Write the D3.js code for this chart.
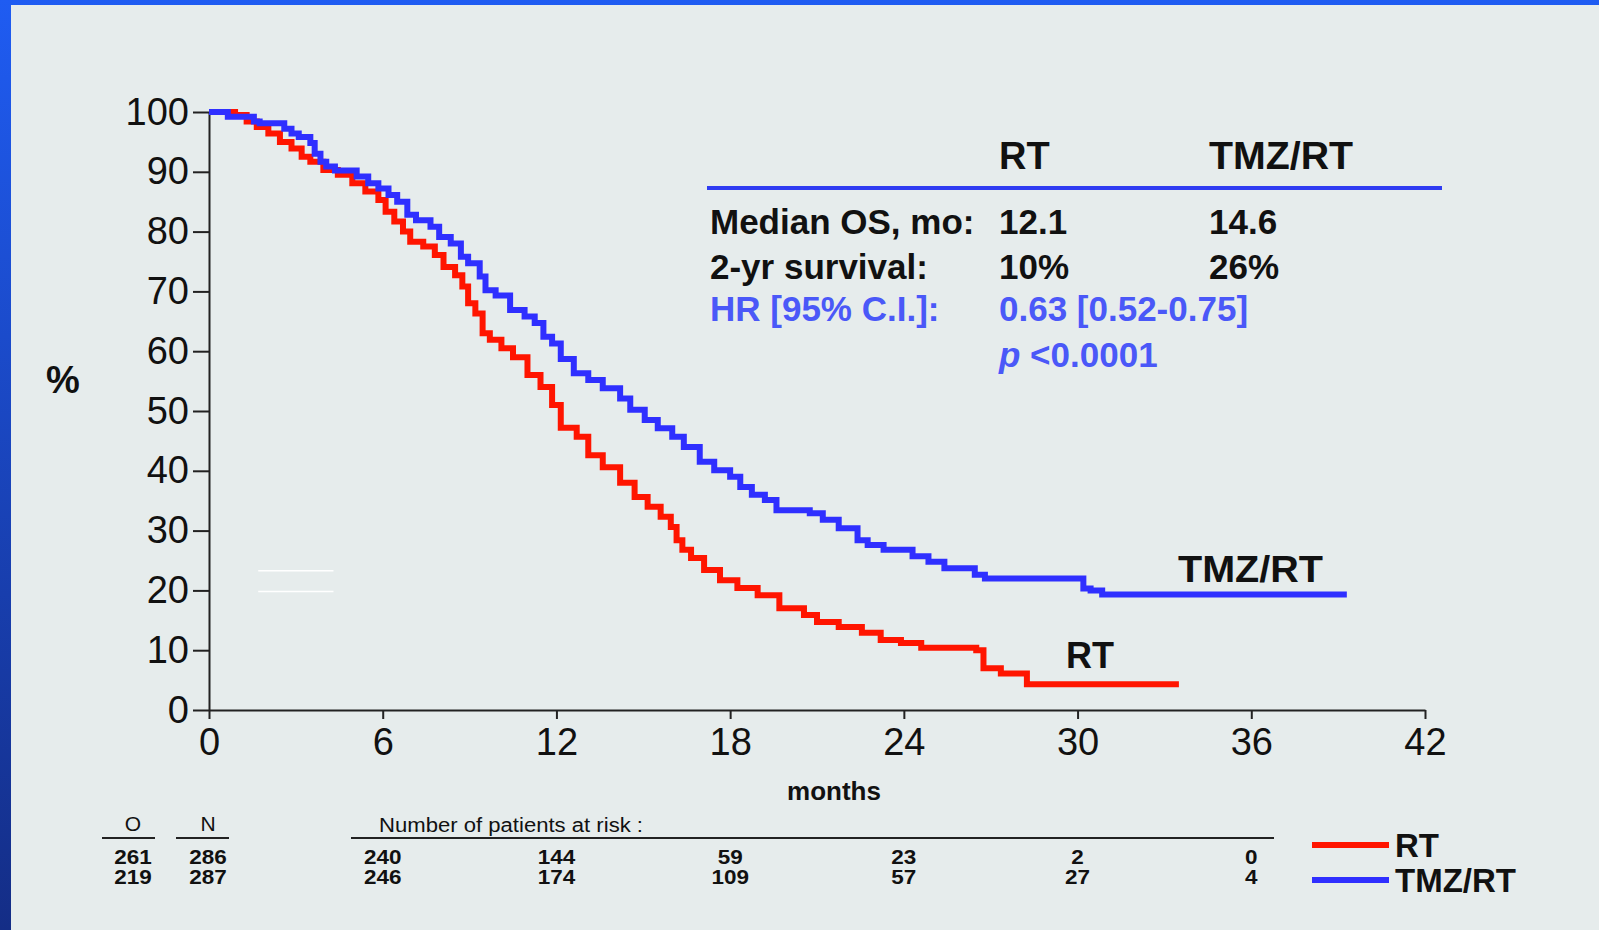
<!DOCTYPE html>
<html>
<head>
<meta charset="utf-8">
<script src="https://cdn.jsdelivr.net/npm/d3@7"></script>
<style>
  html,body{margin:0;padding:0;background:#e6ecec;}
  svg{display:block;}
  text{font-family:"Liberation Sans",Arial,Helvetica,sans-serif;}
</style>
</head>
<body>
<script>
// ---------- data ----------
const xTicks = [0, 6, 12, 18, 24, 30, 36, 42];
const yTicks = [0, 10, 20, 30, 40, 50, 60, 70, 80, 90, 100];

const rtTime = [0, 0.9, 1.3, 1.65, 2.05, 2.45, 2.85, 3.2, 3.5, 3.95, 4.45, 4.95, 5.4, 5.85, 6.1, 6.4, 6.7, 6.95, 7.4, 7.8, 8.1, 8.5, 8.75, 8.95, 9.2, 9.45, 9.7, 10.1, 10.5, 11.0, 11.45, 11.85, 12.15, 12.7, 13.1, 13.6, 14.2, 14.7, 15.15, 15.6, 15.95, 16.15, 16.35, 16.65, 17.1, 17.65, 18.25, 18.95, 19.7, 20.55, 21.0, 21.75, 22.55, 23.2, 23.9, 24.6, 26.5, 26.75, 27.35, 28.25, 33.5];
const rtSurv = [100, 99.5, 98.4, 97.5, 96.4, 95.0, 93.9, 92.5, 91.7, 90.3, 89.5, 88.1, 86.7, 85.3, 83.3, 81.7, 80.0, 78.3, 77.5, 76.1, 74.1, 72.7, 70.8, 68.0, 66.3, 63.0, 61.9, 60.5, 59.0, 56.0, 54.0, 51.0, 47.2, 45.7, 42.6, 40.6, 38.0, 35.6, 34.0, 32.3, 30.6, 28.4, 26.8, 25.4, 23.4, 21.7, 20.4, 19.2, 17.0, 15.9, 14.7, 13.9, 12.9, 11.7, 11.2, 10.4, 10.0, 7.0, 6.1, 4.3, 4.3];

const tmzTime = [0, 0.65, 1.55, 1.75, 2.6, 2.85, 3.1, 3.5, 3.65, 3.85, 4.05, 4.35, 5.1, 5.5, 5.85, 6.2, 6.5, 6.85, 7.15, 7.65, 7.95, 8.35, 8.7, 8.95, 9.35, 9.55, 9.9, 10.4, 10.9, 11.25, 11.55, 11.85, 12.15, 12.6, 13.1, 13.6, 14.2, 14.55, 15.05, 15.5, 16.0, 16.4, 16.95, 17.45, 18.0, 18.35, 18.75, 19.2, 19.6, 20.75, 21.2, 21.75, 22.4, 22.75, 23.3, 24.3, 24.85, 25.4, 26.45, 26.8, 30.2, 30.45, 30.85, 39.3];
const tmzSurv = [100, 99.2, 98.4, 98.1, 97.2, 96.4, 95.8, 94.8, 93.0, 91.7, 90.9, 90.2, 89.2, 88.1, 87.2, 86.1, 85.0, 82.8, 81.9, 80.8, 79.1, 78.0, 75.8, 74.7, 72.5, 70.2, 69.3, 66.9, 65.8, 64.7, 62.4, 61.3, 58.7, 56.3, 55.2, 53.8, 52.1, 50.2, 48.5, 47.1, 45.7, 44.0, 41.5, 40.1, 39.0, 37.3, 36.0, 35.1, 33.4, 32.9, 31.8, 30.4, 28.4, 27.6, 26.8, 25.7, 24.8, 23.7, 22.6, 22.0, 20.3, 20.0, 19.3, 19.3];

const seriesNames = ["RT", "TMZ/RT"];
const seriesColors = ["#ff1500", "#2f2fff"];

const riskMonths = [6, 12, 18, 24, 30, 36];
const riskRT = [240, 144, 59, 23, 2, 0];
const riskTMZ = [246, 174, 109, 57, 27, 4];
const observed = [261, 219];
const numbers = [286, 287];

const tableHeader = ["RT", "TMZ/RT"];
const tableRows = [
  ["Median OS, mo:", "12.1", "14.6"],
  ["2-yr survival:", "10%", "26%"]
];
const hrLabel = "HR [95% C.I.]:";
const hrValue = "0.63 [0.52-0.75]";
const pValue = "<0.0001";

// ---------- drawing ----------
const W = 1599, H = 930;
const svg = d3.select("body").append("svg").attr("width", W).attr("height", H);

const defs = svg.append("defs");
const grad = defs.append("linearGradient").attr("id", "frame").attr("x1", 0).attr("y1", 0).attr("x2", 0).attr("y2", 1);
grad.append("stop").attr("offset", "0%").attr("stop-color", "#1f5cf2");
grad.append("stop").attr("offset", "100%").attr("stop-color", "#142d86");

svg.append("rect").attr("width", W).attr("height", H).attr("fill", "url(#frame)");
svg.append("rect").attr("x", 11).attr("y", 5).attr("width", W - 11).attr("height", H - 5).attr("fill", "#e6ecec");

const x = d3.scaleLinear().domain([0, 42]).range([209, 1425]);
const y = d3.scaleLinear().domain([0, 100]).range([710, 112]);

// faint white marks
const g0 = svg.append("g");
[23.3, 19.8].forEach(v => {
  g0.append("line").attr("x1", x(1.7)).attr("x2", x(4.3)).attr("y1", y(v)).attr("y2", y(v))
    .attr("stroke", "#ffffff").attr("stroke-width", 1.5);
});

// axes
const xAxis = d3.axisBottom(x).tickValues(xTicks).tickSizeInner(9).tickSizeOuter(0).tickPadding(9);
const gx = svg.append("g").attr("transform", `translate(0,${y(0)})`).call(xAxis);
gx.select(".domain").attr("stroke", "#222").attr("stroke-width", 2);
gx.selectAll(".tick line").attr("stroke", "#222").attr("stroke-width", 2);
gx.selectAll(".tick text").attr("font-size", 38).attr("fill", "#111").attr("font-family", "Liberation Sans, Arial, sans-serif");

const yAxis = d3.axisLeft(y).tickValues(yTicks).tickSizeInner(16).tickSizeOuter(0).tickPadding(4);
const gy = svg.append("g").attr("transform", `translate(${x(0)},0)`).call(yAxis);
gy.select(".domain").attr("stroke", "#222").attr("stroke-width", 2);
gy.selectAll(".tick line").attr("stroke", "#222").attr("stroke-width", 2);
gy.selectAll(".tick text").attr("font-size", 38).attr("fill", "#111").attr("font-family", "Liberation Sans, Arial, sans-serif");

// curves
const line = d3.line().x(d => x(d[0])).y(d => y(d[1])).curve(d3.curveStepAfter);
const curves = [
  d3.zip(rtTime, rtSurv),
  d3.zip(tmzTime, tmzSurv)
];
curves.forEach((c, i) => {
  svg.append("path").datum(c).attr("d", line).attr("fill", "none")
    .attr("stroke", seriesColors[i]).attr("stroke-width", 6).attr("stroke-linejoin", "miter");
});

// axis labels
svg.append("text").attr("x", 63).attr("y", 380).attr("dy", "0.35em").attr("text-anchor", "middle")
  .attr("font-size", 38).attr("font-weight", "bold").attr("fill", "#111").text("%");
svg.append("text").attr("x", 834).attr("y", 791).attr("dy", "0.35em").attr("text-anchor", "middle")
  .attr("font-size", 26).attr("font-weight", "bold").attr("fill", "#111").text("months");

// curve labels
svg.append("text").attr("x", 1178).attr("y", 569).attr("dy", "0.35em")
  .attr("font-size", 36).attr("font-weight", "bold").attr("fill", "#111")
  .attr("textLength", 145).attr("lengthAdjust", "spacingAndGlyphs").text(seriesNames[1]);
svg.append("text").attr("x", 1066).attr("y", 655).attr("dy", "0.35em")
  .attr("font-size", 36).attr("font-weight", "bold").attr("fill", "#111").text(seriesNames[0]);

// stats table
const tf = 35;
const col0 = 710, col1 = 999, col2 = 1209;
svg.append("text").attr("x", col1).attr("y", 156).attr("dy", "0.35em").attr("font-size", 38).attr("font-weight", "bold").attr("fill", "#111").text(tableHeader[0]);
svg.append("text").attr("x", col2).attr("y", 156).attr("dy", "0.35em").attr("font-size", 38).attr("font-weight", "bold").attr("fill", "#111")
  .attr("textLength", 144).attr("lengthAdjust", "spacingAndGlyphs").text(tableHeader[1]);
svg.append("line").attr("x1", 707).attr("x2", 1442).attr("y1", 188).attr("y2", 188).attr("stroke", "#2f3cf2").attr("stroke-width", 4);
const rowY = [222, 267];
tableRows.forEach((r, i) => {
  [col0, col1, col2].forEach((cx, j) => {
    svg.append("text").attr("x", cx).attr("y", rowY[i]).attr("dy", "0.35em").attr("font-size", tf)
      .attr("font-weight", "bold").attr("fill", "#111").text(r[j]);
  });
});
const hrColor = "#4a58f8";
svg.append("text").attr("x", col0).attr("y", 309).attr("dy", "0.35em").attr("font-size", tf).attr("font-weight", "bold").attr("fill", hrColor).text(hrLabel);
svg.append("text").attr("x", col1).attr("y", 309).attr("dy", "0.35em").attr("font-size", tf).attr("font-weight", "bold").attr("fill", hrColor).text(hrValue);
const pt = svg.append("text").attr("x", col1).attr("y", 355).attr("dy", "0.35em").attr("font-size", tf).attr("font-weight", "bold").attr("fill", hrColor);
pt.append("tspan").attr("font-style", "italic").text("p");
pt.append("tspan").text(" " + pValue);

// risk table
const rf = 21;
function riskText(cx, cy, str, anchor) {
  const t = svg.append("text").attr("x", cx).attr("y", cy).attr("dy", "0.35em").attr("text-anchor", anchor || "middle")
    .attr("font-size", rf).attr("font-weight", "bold").attr("fill", "#111").text(str);
  t.attr("textLength", String(str).length * 12.5).attr("lengthAdjust", "spacingAndGlyphs");
  return t;
}
svg.append("text").attr("x", 133).attr("y", 824).attr("dy", "0.35em").attr("text-anchor", "middle").attr("font-size", 21).attr("fill", "#111").text("O");
svg.append("text").attr("x", 208).attr("y", 824).attr("dy", "0.35em").attr("text-anchor", "middle").attr("font-size", 21).attr("fill", "#111").text("N");
svg.append("line").attr("x1", 102).attr("x2", 155).attr("y1", 838).attr("y2", 838).attr("stroke", "#222").attr("stroke-width", 2);
svg.append("line").attr("x1", 176).attr("x2", 229).attr("y1", 838).attr("y2", 838).attr("stroke", "#222").attr("stroke-width", 2);
svg.append("text").attr("x", 379).attr("y", 825).attr("dy", "0.35em").attr("font-size", 20).attr("fill", "#111")
  .attr("textLength", 264).attr("lengthAdjust", "spacingAndGlyphs").text("Number of patients at risk :");
svg.append("line").attr("x1", 351).attr("x2", 1274).attr("y1", 838).attr("y2", 838).attr("stroke", "#222").attr("stroke-width", 2);

riskText(133, 857, observed[0]);
riskText(133, 877, observed[1]);
riskText(208, 857, numbers[0]);
riskText(208, 877, numbers[1]);
riskMonths.forEach((m, i) => {
  riskText(x(m), 857, riskRT[i]);
  riskText(x(m), 877, riskTMZ[i]);
});

// legend
[845, 880].forEach((ly, i) => {
  svg.append("line").attr("x1", 1312).attr("x2", 1389).attr("y1", ly).attr("y2", ly)
    .attr("stroke", seriesColors[i]).attr("stroke-width", 6);
  svg.append("text").attr("x", 1395).attr("y", ly).attr("dy", "0.35em").attr("font-size", 33)
    .attr("font-weight", "bold").attr("fill", "#111").text(seriesNames[i]);
});
</script>
</body>
</html>
